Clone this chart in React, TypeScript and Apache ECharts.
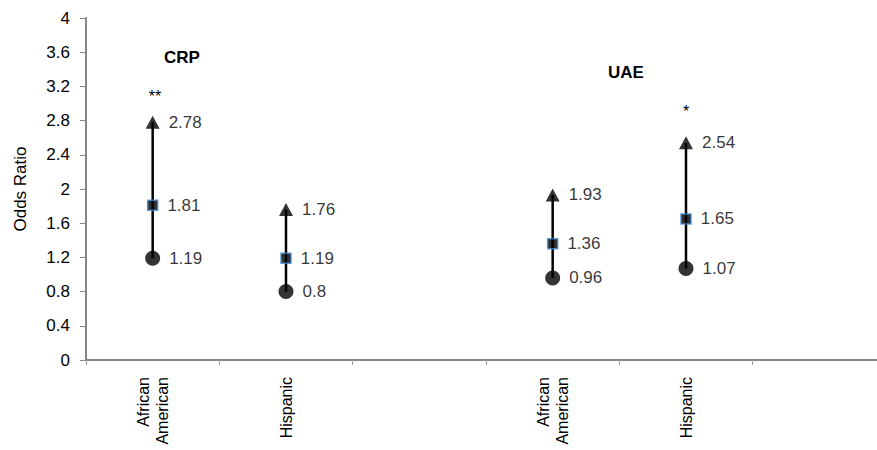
import React, { useEffect, useRef } from "react";
import * as echarts from "echarts";

const categories = ["African\nAmerican", "Hispanic", "", "African\nAmerican", "Hispanic", ""];
const upperValues: (number | null)[] = [2.78, 1.76, null, 1.93, 2.54, null];
const pointValues: (number | null)[] = [1.81, 1.19, null, 1.36, 1.65, null];
const lowerValues: (number | null)[] = [1.19, 0.8, null, 0.96, 1.07, null];
const yTicks = { min: 0, max: 4, interval: 0.4 };

const FONT = "Liberation Sans, Arial, sans-serif";

function toData(arr: (number | null)[]) {
  return arr.map((v, i) => (v == null ? [i, "-"] : [i, v]));
}

export default function App() {
  const ref = useRef<HTMLDivElement>(null);
  useEffect(() => {
    if (!ref.current) return;
    const chart = echarts.init(ref.current, undefined, { renderer: "svg" });
    const rangeData = categories
      .map((_, i) => [i, lowerValues[i], upperValues[i]])
      .filter((d) => d[1] != null && d[2] != null);
    const labelStyle = {
      show: true,
      position: "right" as const,
      distance: 9,
      color: "#000",
      fontSize: 17,
      fontFamily: FONT,
      formatter: (p: any) => String(p.value[1]),
    };
    chart.setOption({
      animation: false,
      textStyle: { fontFamily: FONT },
      grid: {
        left: 86,
        top: 18,
        width: 800,
        bottom: 90,
        containLabel: false,
        outerBoundsMode: "none",
      },
      xAxis: {
        type: "category",
        data: categories,
        boundaryGap: true,
        axisLine: { lineStyle: { color: "#868686", width: 2 } },
        axisTick: { show: true, length: 5, lineStyle: { color: "#a0a0a0", width: 1 } },
        axisLabel: {
          rotate: 90,
          interval: 0,
          margin: 17,
          fontSize: 16,
          color: "#000",
          fontFamily: FONT,
          lineHeight: 19,
        },
      },
      yAxis: {
        type: "value",
        min: yTicks.min,
        max: yTicks.max,
        interval: yTicks.interval,
        name: "Odds Ratio",
        nameLocation: "middle",
        nameRotate: 90,
        nameGap: 57,
        nameTextStyle: { fontSize: 17, color: "#000", fontFamily: FONT },
        splitLine: { show: false },
        axisLine: { show: true, lineStyle: { color: "#868686", width: 2 } },
        axisTick: { show: true, length: 6, lineStyle: { color: "#868686", width: 1 } },
        axisLabel: {
          fontSize: 17,
          color: "#000",
          margin: 16,
          fontFamily: FONT,
          formatter: (v: number) => String(Math.round(v * 10) / 10),
        },
      },
      series: [
        {
          type: "custom",
          data: rangeData,
          z: 1,
          renderItem: (params: any, api: any) => {
            const x = api.value(0);
            const lo = api.coord([x, api.value(1)]);
            const hi = api.coord([x, api.value(2)]);
            return {
              type: "line",
              shape: { x1: lo[0], y1: lo[1], x2: hi[0], y2: hi[1] },
              style: { stroke: "#000", lineWidth: 2.5 },
            };
          },
        },
        {
          type: "scatter",
          name: "Upper",
          data: toData(upperValues),
          symbol: "triangle",
          symbolSize: [14, 13],
          itemStyle: { color: "#000" },
          label: labelStyle,
          z: 3,
        },
        {
          type: "scatter",
          name: "OR",
          data: toData(pointValues),
          symbol: "rect",
          symbolSize: 10,
          itemStyle: { color: "#000", borderColor: "#3d8ad6", borderWidth: 1.5 },
          label: labelStyle,
          z: 3,
        },
        {
          type: "scatter",
          name: "Lower",
          data: toData(lowerValues),
          symbol: "circle",
          symbolSize: 15,
          itemStyle: { color: "#000" },
          label: labelStyle,
          z: 3,
        },
      ],
      graphic: [
        { type: "text", x: 182, y: 57, style: { text: "CRP", font: `bold 17px ${FONT}`, fill: "#000", align: "center", verticalAlign: "middle" } },
        { type: "text", x: 626, y: 72, style: { text: "UAE", font: `bold 17px ${FONT}`, fill: "#000", align: "center", verticalAlign: "middle" } },
        { type: "text", x: 155, y: 96, style: { text: "**", font: `16px ${FONT}`, fill: "#000", align: "center", verticalAlign: "middle" } },
        { type: "text", x: 686, y: 111, style: { text: "*", font: `16px ${FONT}`, fill: "#000", align: "center", verticalAlign: "middle" } },
      ],
    });
    return () => chart.dispose();
  }, []);
  return (
    <div
      ref={ref}
      style={{ position: "fixed", left: 0, top: 0, width: 877, height: 450, background: "#fff" }}
    />
  );
}
